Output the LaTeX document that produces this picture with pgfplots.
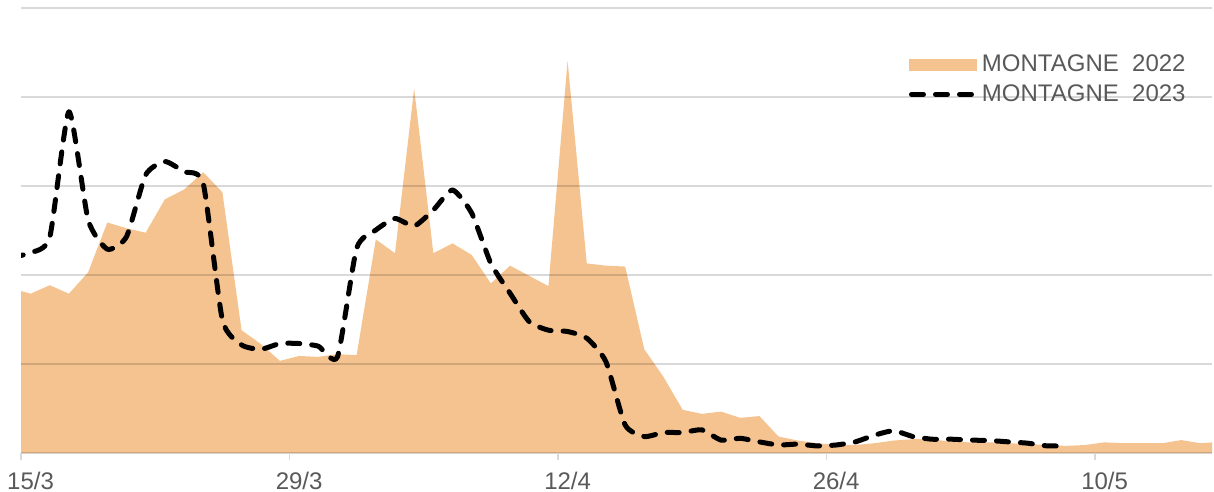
\documentclass[border=0pt]{standalone}
\usepackage{fontspec}
\setmainfont{Liberation Sans}
\usepackage{pgfplots}
\pgfplotsset{compat=1.18}
\definecolor{area22}{RGB}{245,195,144}
\definecolor{txtgray}{RGB}{89,89,89}
\definecolor{gridgray}{RGB}{217,217,217}
\begin{document}
\begin{tikzpicture}
\begin{axis}[
    width=595.5pt, height=222.5pt, scale only axis,
    xmin=0, xmax=62.1, ymin=0, ymax=100,
    axis line style={draw=none},
    axis on top,
    ytick={0,20,...,100}, yticklabels={}, ytick style={draw=none},
    ymajorgrids,
    major grid style={black, opacity=0.15, line width=0.9pt},
    xtick={0,14,28,42,56},
    xticklabels={15/3,29/3,12/4,26/4,10/5},
    xtick pos=bottom, tick align=outside, major tick length=3.5pt,
    xtick style={gridgray, line width=0.8pt},
    xticklabel style={font=\fontsize{12}{14}\selectfont, text=txtgray,
        anchor=base, xshift=4.8pt, yshift=-14.5pt},
    legend style={at={(0.9815,0.905)}, anchor=north east, draw=none,
        fill=none, inner sep=0pt, row sep=1pt,
        font=\fontsize{12}{14}\selectfont, text=txtgray},
    legend cell align=left,
]
% MONTAGNE 2022
\addplot[draw=none, fill=area22,
    legend image code/.code={\fill[area22] (0pt,-3pt) rectangle (34pt,3pt);}]
coordinates {
    (-0.5,37.0) (0.5,35.8) (1.5,37.7) (2.5,35.8) (3.5,40.6) (4.5,51.8)
    (5.5,50.5) (6.5,49.5) (7.5,57.0) (8.5,59.2) (9.5,63.1) (10.5,58.6)
    (11.5,27.6) (12.5,24.5) (13.5,20.7) (14.5,21.8) (15.5,21.6) (16.5,22.2)
    (17.5,22.0) (18.5,48.0) (19.5,44.9) (20.5,81.9) (21.5,44.9) (22.5,47.1)
    (23.5,44.5) (24.5,38.1) (25.5,42.1) (26.5,39.8) (27.5,37.5) (28.5,88.1)
    (29.5,42.6) (30.5,42.1) (31.5,41.9) (32.5,23.3) (33.5,17.1) (34.5,9.7)
    (35.5,8.8) (36.5,9.3) (37.5,7.9) (38.5,8.3) (39.5,3.7) (40.5,2.8)
    (41.5,2.2) (42.5,1.8) (43.5,1.8) (44.5,2.2) (45.5,2.8) (46.5,3.1)
    (47.5,3.1) (48.5,2.5) (49.5,2.4) (50.5,2.4) (51.5,2.2) (52.5,2.0)
    (53.5,1.8) (54.5,1.6) (55.5,1.8) (56.5,2.4) (57.5,2.2) (58.5,2.2)
    (59.5,2.2) (60.5,2.9) (61.5,2.2) (62.5,2.5)
} \closedcycle;
% MONTAGNE 2023
\addplot[black, line width=2.5pt, dash pattern=on 6pt off 6pt,
    line cap=round, line join=round, smooth, tension=0.35,
    legend image code/.code={\draw[black, line width=2.5pt,
        dash pattern=on 6pt off 6pt, line cap=round] (1pt,0pt) -- (33pt,0pt);}]
coordinates {
    (-0.5,44.0) (0.5,45.0) (1.5,48.5) (2.5,76.7) (3.5,52.4) (4.5,45.8)
    (5.5,48.6) (6.5,62.5) (7.5,65.5) (8.5,63.2) (9.5,60.6) (10.5,29.9)
    (11.5,24.3) (12.5,23.3) (13.5,24.6) (14.5,24.6) (15.5,24.0) (16.5,21.6)
    (17.5,46.0) (18.5,50.1) (19.5,52.7) (20.5,51.0) (21.5,54.6) (22.5,59.1)
    (23.5,53.9) (24.5,42.6) (25.5,35.9) (26.5,29.5) (27.5,27.6) (28.5,27.3)
    (29.5,25.8) (30.5,20.5) (31.5,6.3) (32.5,3.7) (33.5,4.6) (34.5,4.6)
    (35.5,5.2) (36.5,2.9) (37.5,3.3) (38.5,2.5) (39.5,1.8) (40.5,2.0)
    (41.5,1.6) (42.5,1.8) (43.5,2.5) (44.5,4.0) (45.5,5.0) (46.5,3.7)
    (47.5,3.1) (48.5,3.1) (49.5,2.9) (50.5,2.8) (51.5,2.5) (52.5,2.2)
    (53.5,1.6) (54.5,1.6)
};
\legend{MONTAGNE~~2022, MONTAGNE~~2023}
\end{axis}
\pgfresetboundingbox
\path ([shift={(-10.5pt,-19.5pt)}]current axis.south west)
    rectangle ([shift={(1pt,4pt)}]current axis.north east);
\end{tikzpicture}
\end{document}
